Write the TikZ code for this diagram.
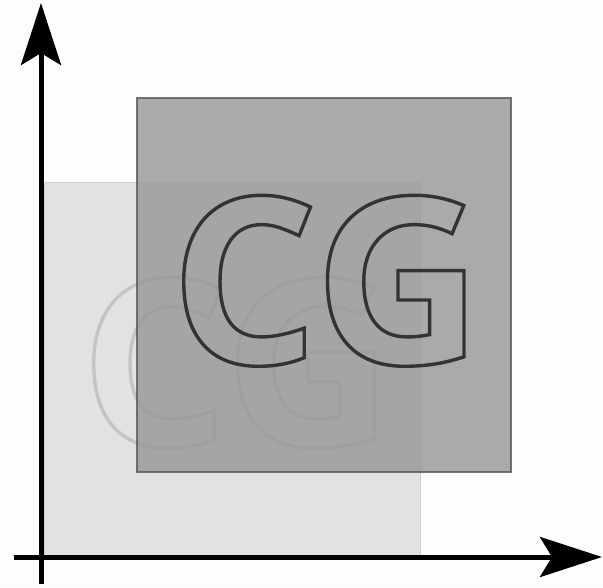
\documentclass[tikz,border=0pt]{standalone}
\usepackage{fontspec}
\setmainfont{Open Sans}
\usetikzlibrary{arrows.meta}
\definecolor{bgwhite}{HTML}{FDFDFD}
\definecolor{lightfill}{HTML}{E2E2E2}
\definecolor{lightedge}{HTML}{CFCFCF}
\definecolor{darkfill}{HTML}{969696}
\definecolor{darkedge}{HTML}{555555}
\definecolor{lightcg}{HTML}{C4C4C4}
\definecolor{darkcg}{HTML}{333333}
\newcommand{\outlinetext}[2]{\special{pdf:literal direct 1 Tr #1 w}#2\special{pdf:literal direct 0 Tr}}
\tikzset{
  lightsq/.style={fill=lightfill, draw=lightedge, line width=1pt},
  darksq/.style={fill=darkfill, draw=darkedge, line width=1.5pt, opacity=0.8},
  cgtext/.style={inner sep=0pt, anchor=base west, font=\fontsize{233}{233}\selectfont\bfseries},
  axisline/.style={line width=5pt, black, -{Stealth[length=62pt,width=40pt,inset=12pt]}}
}
\begin{document}
\begin{tikzpicture}[x=1pt,y=-1pt]
\useasboundingbox (0,0) rectangle (603,587);
\fill[bgwhite] (0,0) rectangle (603,587);
\draw[lightsq] (44,182) rectangle (420,555);
\node[cgtext, text=lightcg] (cglight) at (80,446) {\outlinetext{3.4}{CG}};
\draw[darksq] (137,98) rectangle (511,472);
\node[cgtext, text=darkcg] (cgdark) at (170,364) {\outlinetext{3.4}{CG}};
\coordinate (ybottom) at (41,584);
\coordinate (ytip) at (41,3);
\coordinate (xleft) at (14,557);
\coordinate (xtip) at (602,557);
\draw[axisline] (ybottom) -- (ytip);
\draw[axisline] (xleft) -- (xtip);
\end{tikzpicture}
\end{document}
